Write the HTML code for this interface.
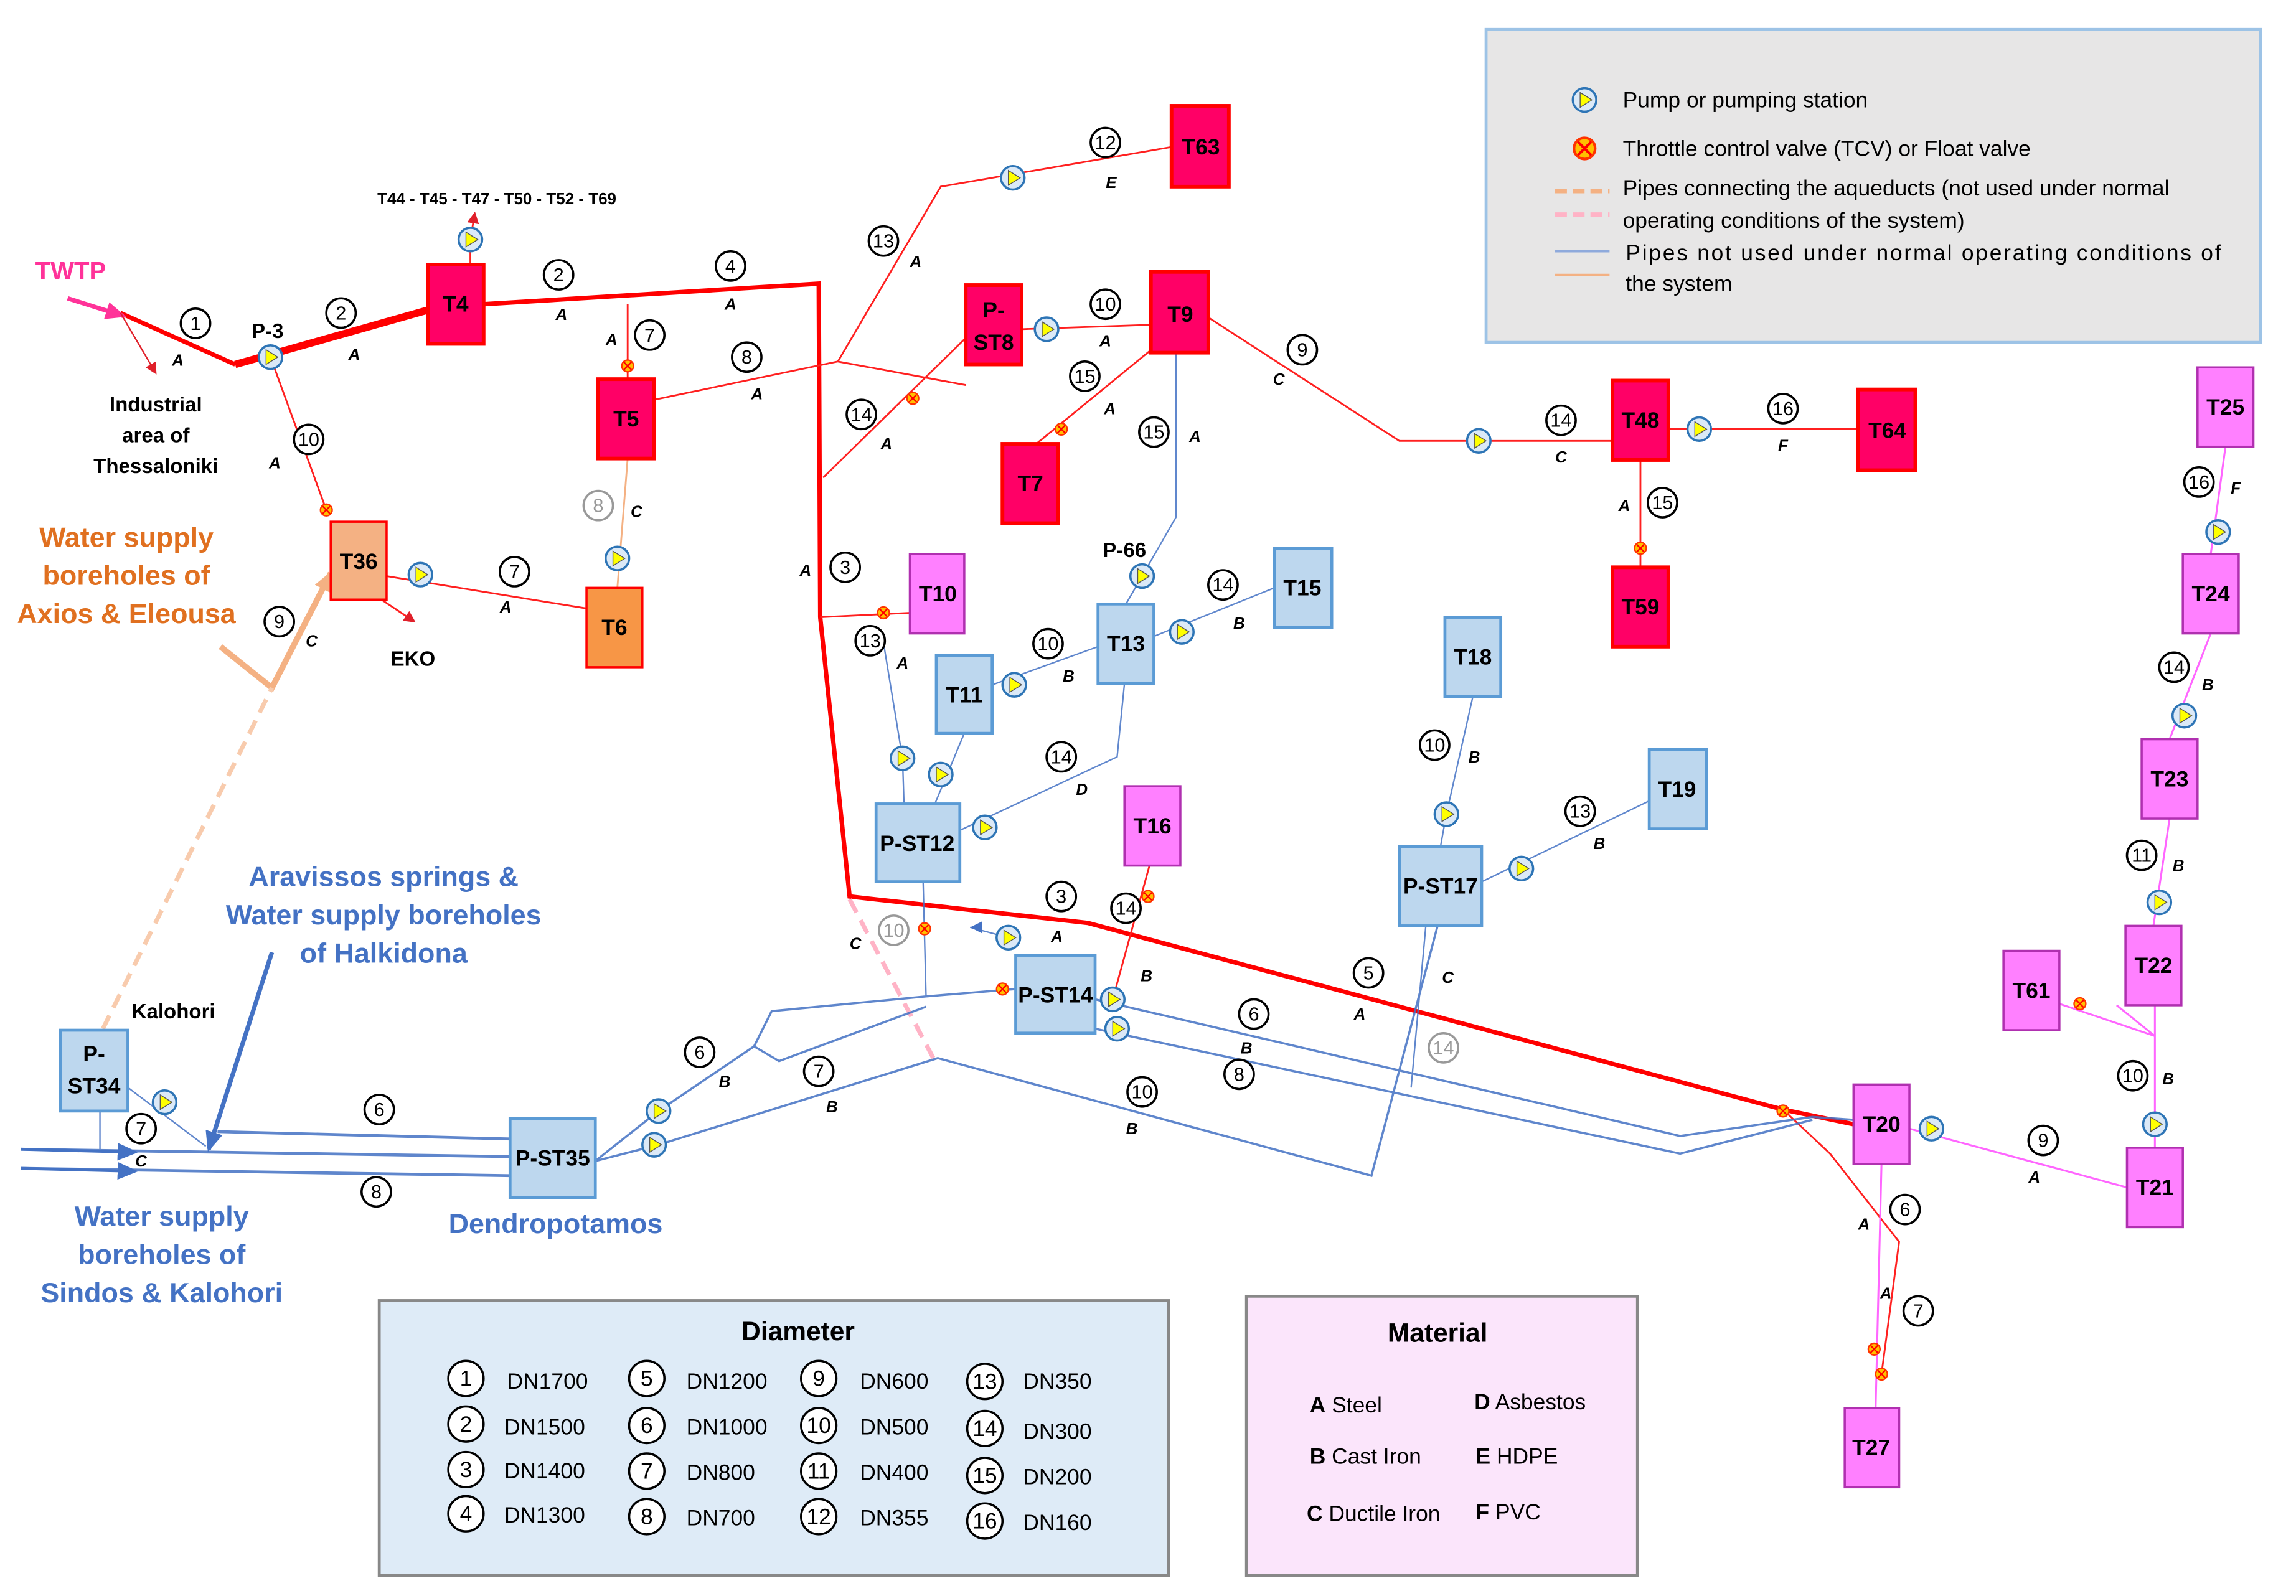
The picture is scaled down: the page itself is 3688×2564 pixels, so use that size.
<!DOCTYPE html>
<html><head><meta charset="utf-8"><style>
html,body{margin:0;padding:0;background:#fff;}
svg{display:block}
text{font-family:"Liberation Sans",sans-serif;}
.bl{font-weight:bold;font-size:15px;text-anchor:middle;dominant-baseline:central}
.n{font-size:13px;text-anchor:middle;dominant-baseline:central}
.l{font-size:11px;font-weight:bold;text-anchor:middle;dominant-baseline:central;font-style:italic}
</style></head><body>
<svg width="3688" height="2564" viewBox="0 0 1562 1086" preserveAspectRatio="none" xmlns="http://www.w3.org/2000/svg">
<defs>
<marker id="ar" markerWidth="8" markerHeight="8" refX="7" refY="4" orient="auto" markerUnits="userSpaceOnUse"><path d="M0,0 L8,4 L0,8 z" fill="#e0202a"/></marker>
<marker id="ab" markerWidth="14" markerHeight="12" refX="12" refY="6" orient="auto" markerUnits="userSpaceOnUse"><path d="M0,0 L14,6 L0,12 z" fill="#4472c4"/></marker>
<marker id="ap" markerWidth="14" markerHeight="12" refX="12" refY="6" orient="auto" markerUnits="userSpaceOnUse"><path d="M0,0 L14,6 L0,12 z" fill="#ff3399"/></marker>
<marker id="ao" markerWidth="14" markerHeight="12" refX="12" refY="6" orient="auto" markerUnits="userSpaceOnUse"><path d="M0,0 L14,6 L0,12 z" fill="#f4b183"/></marker>
<g id="pump"><circle r="8" fill="#dbe9f7" stroke="#2e75b6" stroke-width="1.5"/><path d="M-3,-5 L5,0 L-3,5 z" fill="#ffff00" stroke="#555" stroke-width="0.6"/></g>
<g id="valve"><circle r="4" fill="#ffc000" stroke="#ff3300" stroke-width="1"/><path d="M-2.5,-2.5 L2.5,2.5 M-2.5,2.5 L2.5,-2.5" stroke="#ff0000" stroke-width="1"/></g>
</defs>

<!-- legend -->
<rect x="1011" y="20" width="527" height="213" fill="#e7e6e6" stroke="#9dc3e6" stroke-width="2"/>
<use href="#pump" x="1078" y="68"/>
<text x="1104" y="73" font-size="15">Pump or pumping station</text>
<g transform="translate(1078 101) scale(1.8)"><circle r="4" fill="#ffc000" stroke="#ff3300" stroke-width="1"/><path d="M-2.5,-2.5 L2.5,2.5 M-2.5,2.5 L2.5,-2.5" stroke="#ff0000" stroke-width="1"/></g>
<text x="1104" y="106" font-size="15">Throttle control valve (TCV) or Float valve</text>
<line x1="1058" y1="130" x2="1095" y2="130" stroke="#f4b183" stroke-width="3" stroke-dasharray="8,4"/>
<line x1="1058" y1="146" x2="1095" y2="146" stroke="#ffb3c6" stroke-width="3" stroke-dasharray="8,4"/>
<text x="1104" y="133" font-size="15">Pipes connecting the aqueducts (not used under normal</text>
<text x="1104" y="155" font-size="15">operating conditions of the system)</text>
<line x1="1058" y1="171" x2="1095" y2="171" stroke="#8faadc" stroke-width="1.5"/>
<line x1="1058" y1="187" x2="1095" y2="187" stroke="#f4b183" stroke-width="1.5"/>
<text x="1106" y="177" font-size="15" textLength="405">Pipes not used under normal operating conditions of</text>
<text x="1106" y="198" font-size="15">the system</text>

<!-- main thick red -->
<polyline points="160,248 291,211" fill="none" stroke="#ff0000" stroke-width="5"/>
<polyline points="329,207 557,193 558,420 578,610 740,628 1213,755 1261,765" fill="none" stroke="#ff0000" stroke-width="3"/>
<line x1="82" y1="213" x2="160" y2="248" stroke="#ff0000" stroke-width="3"/>
<line x1="46" y1="203" x2="84" y2="215" stroke="#ff3399" stroke-width="3" marker-end="url(#ap)"/>
<text x="24" y="190" font-size="17" font-weight="bold" fill="#ff3399">TWTP</text>
<line x1="82" y1="213" x2="106" y2="254" stroke="#e0202a" stroke-width="1" marker-end="url(#ar)"/>

<!-- thin red lines -->
<g stroke="#ff2020" stroke-width="1.2" fill="none">
<line x1="184" y1="243" x2="222" y2="347"/>
<line x1="263" y1="392" x2="399" y2="414"/>
<line x1="258" y1="407" x2="282" y2="423" marker-end="url(#ar)"/>
<line x1="320" y1="180" x2="320" y2="163"/>
<line x1="320" y1="163" x2="323" y2="145" marker-end="url(#ar)"/>
<line x1="427" y1="207" x2="427" y2="258"/>
<line x1="445" y1="272" x2="570" y2="246"/>
<polyline points="570,246 640,127 797,100"/>
<line x1="570" y1="246" x2="657" y2="262"/>
<line x1="560" y1="325" x2="657" y2="230"/>
<line x1="695" y1="224" x2="783" y2="221"/>
<line x1="782" y1="239" x2="705" y2="302"/>
<polyline points="822,216 952,300 1097,300"/>
<line x1="1135" y1="292" x2="1264" y2="292"/>
<line x1="1116" y1="313" x2="1116" y2="386"/>
<line x1="558" y1="420" x2="619" y2="417"/>
<line x1="782" y1="589" x2="757" y2="680"/>
<polyline points="1213,755 1245,785 1292,845 1280,935"/>
</g>
<line x1="427" y1="312" x2="420" y2="400" stroke="#f4b183" stroke-width="1.2"/>
<!-- orange arrow & dashed -->
<polyline points="150,440 185,468 225,390" fill="none" stroke="#f4b183" stroke-width="4" marker-end="url(#ao)"/>
<line x1="70" y1="700" x2="185" y2="468" stroke="#f8cbad" stroke-width="3" stroke-dasharray="10,6"/>
<line x1="578" y1="612" x2="636" y2="722" stroke="#ffb3c6" stroke-width="3" stroke-dasharray="10,6"/>

<!-- blue lines -->
<g stroke="#4472c4" stroke-width="1" fill="none" opacity="0.85">
<polyline points="800,240 800,352 777,392 766,411"/>
<line x1="785" y1="433" x2="867" y2="400"/>
<line x1="675" y1="466" x2="747" y2="440"/>
<polyline points="765,465 760,515 653,565"/>
<line x1="656" y1="499" x2="636" y2="547"/>
<line x1="600" y1="431" x2="614" y2="516"/>
<line x1="614" y1="516" x2="615" y2="547"/>
<polyline points="1002,474 984,554 980,576"/>
<line x1="1008" y1="600" x2="1122" y2="545"/>
<polyline points="628,600 630,678"/>
<line x1="87" y1="740" x2="140" y2="780"/>
<line x1="68" y1="756" x2="68" y2="782"/>
<polyline points="148,770 347,775" stroke-width="2"/>
<line x1="14" y1="782" x2="347" y2="787" stroke-width="2"/>
<line x1="14" y1="795" x2="347" y2="800" stroke-width="2"/>
<polyline points="405,790 448,756 513,712 525,688 630,678 691,673" stroke-width="1.5"/>
<polyline points="513,712 530,722 630,685" stroke-width="1.5"/>
<polyline points="405,790 448,779 638,720 933,800 978,630" stroke-width="1.5"/>
<polyline points="745,680 1143,773 1233,760 1261,762" stroke-width="1.5"/>
<polyline points="745,700 1143,785 1233,762" stroke-width="1.5"/>
<line x1="960" y1="740" x2="970" y2="630"/>
<line x1="686" y1="638" x2="660" y2="631"/>
</g>
<path d="M660,631 l8,-4 l0,8z" fill="#4472c4"/>
<line x1="185" y1="648" x2="142" y2="782" stroke="#4472c4" stroke-width="3" marker-end="url(#ab)"/>
<line x1="14" y1="782" x2="92" y2="784" stroke="#4472c4" stroke-width="2" marker-end="url(#ab)"/>
<line x1="14" y1="795" x2="92" y2="797" stroke="#4472c4" stroke-width="2" marker-end="url(#ab)"/>

<!-- pink lines -->
<g stroke="#ff66ff" stroke-width="1.3" fill="none">
<line x1="1514" y1="304" x2="1504" y2="377"/>
<line x1="1504" y1="431" x2="1476" y2="503"/>
<line x1="1476" y1="557" x2="1465" y2="630"/>
<polyline points="1466,684 1466,781"/>
<polyline points="1401,683 1466,705 1440,684"/>
<line x1="1299" y1="768" x2="1447" y2="808"/>
<line x1="1280" y1="792" x2="1276" y2="958"/>
</g>

<!-- boxes -->
<g stroke-width="2.5">
<rect x="291" y="180" width="38" height="54" fill="#ff0066" stroke="#ff0000"/>
<rect x="407" y="258" width="38" height="54" fill="#ff0066" stroke="#ff0000"/>
<rect x="797" y="72" width="39" height="55" fill="#ff0066" stroke="#ff0000"/>
<rect x="657" y="194" width="38" height="54" fill="#ff0066" stroke="#ff0000"/>
<rect x="783" y="185" width="39" height="55" fill="#ff0066" stroke="#ff0000"/>
<rect x="682" y="302" width="38" height="54" fill="#ff0066" stroke="#ff0000"/>
<rect x="1097" y="259" width="38" height="54" fill="#ff0066" stroke="#ff0000"/>
<rect x="1264" y="265" width="39" height="55" fill="#ff0066" stroke="#ff0000"/>
<rect x="1097" y="386" width="38" height="54" fill="#ff0066" stroke="#ff0000"/>
<rect x="225" y="355" width="38" height="53" fill="#f4b183" stroke="#ff0000" stroke-width="1.5"/>
<rect x="399" y="400" width="38" height="54" fill="#f79646" stroke="#ff0000" stroke-width="1.5"/>
</g>
<g fill="#ff80ff" stroke="#b030b0" stroke-width="1.5">
<rect x="619" y="377" width="37" height="54"/>
<rect x="765" y="535" width="38" height="54"/>
<rect x="1495" y="250" width="38" height="54"/>
<rect x="1485" y="377" width="38" height="54"/>
<rect x="1457" y="503" width="38" height="54"/>
<rect x="1446" y="630" width="38" height="54"/>
<rect x="1363" y="647" width="38" height="54"/>
<rect x="1261" y="738" width="38" height="54"/>
<rect x="1447" y="781" width="38" height="54"/>
<rect x="1255" y="958" width="37" height="54"/>
</g>
<g fill="#bdd7ee" stroke="#5b9bd5" stroke-width="2">
<rect x="637" y="446" width="38" height="53"/>
<rect x="747" y="411" width="38" height="54"/>
<rect x="867" y="373" width="39" height="54"/>
<rect x="983" y="420" width="38" height="54"/>
<rect x="1122" y="510" width="39" height="54"/>
<rect x="596" y="547" width="57" height="53"/>
<rect x="952" y="576" width="56" height="54"/>
<rect x="691" y="650" width="54" height="53"/>
<rect x="347" y="761" width="58" height="54"/>
<rect x="41" y="701" width="46" height="55"/>
</g>
<text class="bl" x="310" y="207">T4</text>
<text class="bl" x="426" y="285">T5</text>
<text class="bl" x="817" y="100">T63</text>
<text class="bl" x="676" y="211">P-</text><text class="bl" x="676" y="233">ST8</text>
<text class="bl" x="803" y="214">T9</text>
<text class="bl" x="701" y="329">T7</text>
<text class="bl" x="1116" y="286">T48</text>
<text class="bl" x="1284" y="293">T64</text>
<text class="bl" x="1116" y="413">T59</text>
<text class="bl" x="244" y="382">T36</text>
<text class="bl" x="418" y="427">T6</text>
<text class="bl" x="638" y="404">T10</text>
<text class="bl" x="784" y="562">T16</text>
<text class="bl" x="1514" y="277">T25</text>
<text class="bl" x="1504" y="404">T24</text>
<text class="bl" x="1476" y="530">T23</text>
<text class="bl" x="1465" y="657">T22</text>
<text class="bl" x="1382" y="674">T61</text>
<text class="bl" x="1280" y="765">T20</text>
<text class="bl" x="1466" y="808">T21</text>
<text class="bl" x="1273" y="985">T27</text>
<text class="bl" x="656" y="473">T11</text>
<text class="bl" x="766" y="438">T13</text>
<text class="bl" x="886" y="400">T15</text>
<text class="bl" x="1002" y="447">T18</text>
<text class="bl" x="1141" y="537">T19</text>
<text class="bl" x="624" y="574">P-ST12</text>
<text class="bl" x="980" y="603">P-ST17</text>
<text class="bl" x="718" y="677">P-ST14</text>
<text class="bl" x="376" y="788">P-ST35</text>
<text class="bl" x="64" y="717">P-</text><text class="bl" x="64" y="739">ST34</text>

<!-- pumps -->
<g>
<use href="#pump" x="184" y="243"/><use href="#pump" x="320" y="163"/><use href="#pump" x="286" y="391"/>
<use href="#pump" x="689" y="121"/><use href="#pump" x="712" y="224"/><use href="#pump" x="1006" y="300"/>
<use href="#pump" x="1156" y="292"/><use href="#pump" x="777" y="392"/><use href="#pump" x="804" y="430"/>
<use href="#pump" x="690" y="466"/><use href="#pump" x="614" y="516"/><use href="#pump" x="640" y="527"/>
<use href="#pump" x="670" y="563"/><use href="#pump" x="984" y="554"/><use href="#pump" x="1035" y="591"/>
<use href="#pump" x="686" y="638"/><use href="#pump" x="757" y="680"/><use href="#pump" x="760" y="700"/>
<use href="#pump" x="448" y="756"/><use href="#pump" x="445" y="779"/><use href="#pump" x="112" y="750"/>
<use href="#pump" x="420" y="380"/>
<use href="#pump" x="1509" y="362"/><use href="#pump" x="1486" y="487"/><use href="#pump" x="1469" y="614"/>
<use href="#pump" x="1466" y="765"/><use href="#pump" x="1314" y="768"/>
</g>
<g>
<use href="#valve" x="222" y="347"/><use href="#valve" x="427" y="249"/><use href="#valve" x="621" y="271"/>
<use href="#valve" x="722" y="292"/><use href="#valve" x="1116" y="373"/><use href="#valve" x="601" y="417"/>
<use href="#valve" x="781" y="610"/><use href="#valve" x="629" y="632"/><use href="#valve" x="682" y="673"/>
<use href="#valve" x="1213" y="756"/><use href="#valve" x="1415" y="683"/><use href="#valve" x="1275" y="918"/>
<use href="#valve" x="1280" y="935"/>
</g>

<!-- number circles -->
<g fill="#fff" stroke="#000" stroke-width="1.5">
<circle cx="133" cy="220" r="10"/><circle cx="232" cy="213" r="10"/><circle cx="380" cy="187" r="10"/>
<circle cx="497" cy="181" r="10"/><circle cx="442" cy="228" r="10"/><circle cx="508" cy="243" r="10"/>
<circle cx="601" cy="164" r="10"/><circle cx="752" cy="97" r="10"/><circle cx="752" cy="207" r="10"/>
<circle cx="886" cy="238" r="10"/><circle cx="738" cy="256" r="10"/><circle cx="586" cy="282" r="10"/>
<circle cx="210" cy="299" r="10"/><circle cx="350" cy="389" r="10"/><circle cx="190" cy="423" r="10"/>
<circle cx="575" cy="386" r="10"/><circle cx="592" cy="436" r="10"/><circle cx="785" cy="294" r="10"/>
<circle cx="1062" cy="286" r="10"/><circle cx="1213" cy="278" r="10"/><circle cx="1131" cy="342" r="10"/>
<circle cx="832" cy="398" r="10"/><circle cx="713" cy="438" r="10"/><circle cx="722" cy="515" r="10"/>
<circle cx="976" cy="507" r="10"/><circle cx="1075" cy="552" r="10"/><circle cx="722" cy="610" r="10"/>
<circle cx="766" cy="618" r="10"/><circle cx="931" cy="662" r="10"/><circle cx="853" cy="690" r="10"/>
<circle cx="843" cy="731" r="10"/><circle cx="777" cy="743" r="10"/><circle cx="476" cy="716" r="10"/>
<circle cx="557" cy="729" r="10"/><circle cx="258" cy="755" r="10"/><circle cx="96" cy="768" r="10"/>
<circle cx="256" cy="811" r="10"/><circle cx="1390" cy="776" r="10"/><circle cx="1296" cy="823" r="10"/>
<circle cx="1305" cy="892" r="10"/><circle cx="1451" cy="732" r="10"/><circle cx="1457" cy="582" r="10"/>
<circle cx="1479" cy="454" r="10"/><circle cx="1496" cy="328" r="10"/>
</g>
<g fill="#fff" stroke="#999" stroke-width="1.5">
<circle cx="407" cy="344" r="10"/><circle cx="608" cy="633" r="10"/><circle cx="982" cy="713" r="10"/>
</g>
<g class="n">
<text class="n" x="133" y="220">1</text><text class="n" x="232" y="213">2</text><text class="n" x="380" y="187">2</text>
<text class="n" x="497" y="181">4</text><text class="n" x="442" y="228">7</text><text class="n" x="508" y="243">8</text>
<text class="n" x="601" y="164">13</text><text class="n" x="752" y="97">12</text><text class="n" x="752" y="207">10</text>
<text class="n" x="886" y="238">9</text><text class="n" x="738" y="256">15</text><text class="n" x="586" y="282">14</text>
<text class="n" x="210" y="299">10</text><text class="n" x="350" y="389">7</text><text class="n" x="190" y="423">9</text>
<text class="n" x="575" y="386">3</text><text class="n" x="592" y="436">13</text><text class="n" x="785" y="294">15</text>
<text class="n" x="1062" y="286">14</text><text class="n" x="1213" y="278">16</text><text class="n" x="1131" y="342">15</text>
<text class="n" x="832" y="398">14</text><text class="n" x="713" y="438">10</text><text class="n" x="722" y="515">14</text>
<text class="n" x="976" y="507">10</text><text class="n" x="1075" y="552">13</text><text class="n" x="722" y="610">3</text>
<text class="n" x="766" y="618">14</text><text class="n" x="931" y="662">5</text><text class="n" x="853" y="690">6</text>
<text class="n" x="843" y="731">8</text><text class="n" x="777" y="743">10</text><text class="n" x="476" y="716">6</text>
<text class="n" x="557" y="729">7</text><text class="n" x="258" y="755">6</text><text class="n" x="96" y="768">7</text>
<text class="n" x="256" y="811">8</text><text class="n" x="1390" y="776">9</text><text class="n" x="1296" y="823">6</text>
<text class="n" x="1305" y="892">7</text><text class="n" x="1451" y="732">10</text><text class="n" x="1457" y="582">11</text>
<text class="n" x="1479" y="454">14</text><text class="n" x="1496" y="328">16</text>
<text class="n" x="407" y="344" fill="#999">8</text><text class="n" x="608" y="633" fill="#999">10</text><text class="n" x="982" y="713" fill="#999">14</text>
</g>
<!-- letters -->
<g>
<text class="l" x="121" y="245">A</text><text class="l" x="241" y="241">A</text><text class="l" x="382" y="214">A</text>
<text class="l" x="497" y="207">A</text><text class="l" x="416" y="231">A</text><text class="l" x="515" y="268">A</text>
<text class="l" x="623" y="178">A</text><text class="l" x="756" y="124">E</text><text class="l" x="752" y="232">A</text>
<text class="l" x="870" y="258">C</text><text class="l" x="755" y="278">A</text><text class="l" x="603" y="302">A</text>
<text class="l" x="187" y="315">A</text><text class="l" x="344" y="413">A</text><text class="l" x="212" y="436">C</text>
<text class="l" x="548" y="388">A</text><text class="l" x="614" y="451">A</text><text class="l" x="813" y="297">A</text>
<text class="l" x="1062" y="311">C</text><text class="l" x="1213" y="303">F</text><text class="l" x="1105" y="344">A</text>
<text class="l" x="433" y="348">C</text><text class="l" x="727" y="460">B</text><text class="l" x="843" y="424">B</text>
<text class="l" x="736" y="537">D</text><text class="l" x="1003" y="515">B</text><text class="l" x="1088" y="574">B</text>
<text class="l" x="719" y="637">A</text><text class="l" x="780" y="664">B</text><text class="l" x="925" y="690">A</text>
<text class="l" x="985" y="665">C</text><text class="l" x="848" y="713">B</text><text class="l" x="493" y="736">B</text>
<text class="l" x="566" y="753">B</text><text class="l" x="770" y="768">B</text><text class="l" x="96" y="790">C</text>
<text class="l" x="1384" y="801">A</text><text class="l" x="1268" y="833">A</text><text class="l" x="1283" y="880">A</text>
<text class="l" x="1475" y="734">B</text><text class="l" x="1482" y="589">B</text><text class="l" x="1502" y="466">B</text>
<text class="l" x="1521" y="332">F</text><text class="l" x="582" y="642">C</text>
</g>

<!-- labels -->
<text x="182" y="230" font-size="14" font-weight="bold" text-anchor="middle">P-3</text>
<text x="338" y="139" font-size="11" font-weight="bold" text-anchor="middle">T44 - T45 - T47 - T50 - T52 - T69</text>
<text x="765" y="379" font-size="14" font-weight="bold" text-anchor="middle">P-66</text>
<text x="106" y="280" font-size="14" font-weight="bold" text-anchor="middle">Industrial</text>
<text x="106" y="301" font-size="14" font-weight="bold" text-anchor="middle">area of</text>
<text x="106" y="322" font-size="14" font-weight="bold" text-anchor="middle">Thessaloniki</text>
<text x="281" y="453" font-size="14" font-weight="bold" text-anchor="middle">EKO</text>
<text x="118" y="693" font-size="14" font-weight="bold" text-anchor="middle">Kalohori</text>
<g font-size="19" font-weight="bold" fill="#e07020" text-anchor="middle">
<text x="86" y="372">Water supply</text><text x="86" y="398">boreholes of</text><text x="86" y="424">Axios &amp; Eleousa</text></g>
<g font-size="19" font-weight="bold" fill="#4472c4" text-anchor="middle">
<text x="261" y="603">Aravissos springs &amp;</text><text x="261" y="629">Water supply boreholes</text><text x="261" y="655">of Halkidona</text>
<text x="110" y="834">Water supply</text><text x="110" y="860">boreholes of</text><text x="110" y="886">Sindos &amp; Kalohori</text>
<text x="378" y="839">Dendropotamos</text></g>

<!-- diameter legend -->
<rect x="258" y="885" width="537" height="187" fill="#deebf7" stroke="#888" stroke-width="2"/>
<text x="543" y="912" font-size="18" font-weight="bold" text-anchor="middle">Diameter</text>
<g fill="#fff" stroke="#000" stroke-width="1.5">
<circle cx="317" cy="938" r="12"/><circle cx="317" cy="969" r="12"/><circle cx="317" cy="1000" r="12"/><circle cx="317" cy="1030" r="12"/>
<circle cx="440" cy="938" r="12"/><circle cx="440" cy="970" r="12"/><circle cx="440" cy="1001" r="12"/><circle cx="440" cy="1032" r="12"/>
<circle cx="557" cy="938" r="12"/><circle cx="557" cy="970" r="12"/><circle cx="557" cy="1001" r="12"/><circle cx="557" cy="1032" r="12"/>
<circle cx="670" cy="940" r="12"/><circle cx="670" cy="972" r="12"/><circle cx="670" cy="1004" r="12"/><circle cx="670" cy="1035" r="12"/>
</g>
<g font-size="15">
<text class="n" x="317" y="938" style="font-size:15px">1</text><text class="n" x="317" y="969" style="font-size:15px">2</text><text class="n" x="317" y="1000" style="font-size:15px">3</text><text class="n" x="317" y="1030" style="font-size:15px">4</text>
<text class="n" x="440" y="938" style="font-size:15px">5</text><text class="n" x="440" y="970" style="font-size:15px">6</text><text class="n" x="440" y="1001" style="font-size:15px">7</text><text class="n" x="440" y="1032" style="font-size:15px">8</text>
<text class="n" x="557" y="938" style="font-size:15px">9</text><text class="n" x="557" y="970" style="font-size:15px">10</text><text class="n" x="557" y="1001" style="font-size:15px">11</text><text class="n" x="557" y="1032" style="font-size:15px">12</text>
<text class="n" x="670" y="940" style="font-size:15px">13</text><text class="n" x="670" y="972" style="font-size:15px">14</text><text class="n" x="670" y="1004" style="font-size:15px">15</text><text class="n" x="670" y="1035" style="font-size:15px">16</text>
<text x="345" y="945">DN1700</text><text x="343" y="976">DN1500</text><text x="343" y="1006">DN1400</text><text x="343" y="1036">DN1300</text>
<text x="467" y="945">DN1200</text><text x="467" y="976">DN1000</text><text x="467" y="1007">DN800</text><text x="467" y="1038">DN700</text>
<text x="585" y="945">DN600</text><text x="585" y="976">DN500</text><text x="585" y="1007">DN400</text><text x="585" y="1038">DN355</text>
<text x="696" y="945">DN350</text><text x="696" y="979">DN300</text><text x="696" y="1010">DN200</text><text x="696" y="1041">DN160</text>
</g>

<!-- material legend -->
<rect x="848" y="882" width="266" height="190" fill="#fbe5fb" stroke="#888" stroke-width="2"/>
<text x="978" y="913" font-size="18" font-weight="bold" text-anchor="middle">Material</text>
<g font-size="15">
<text x="891" y="961"><tspan font-weight="bold">A</tspan> Steel</text>
<text x="891" y="996"><tspan font-weight="bold">B</tspan> Cast Iron</text>
<text x="889" y="1035"><tspan font-weight="bold">C</tspan> Ductile Iron</text>
<text x="1003" y="959"><tspan font-weight="bold">D</tspan> Asbestos</text>
<text x="1004" y="996"><tspan font-weight="bold">E</tspan> HDPE</text>
<text x="1004" y="1034"><tspan font-weight="bold">F</tspan> PVC</text>
</g>
</svg>
</body></html>
